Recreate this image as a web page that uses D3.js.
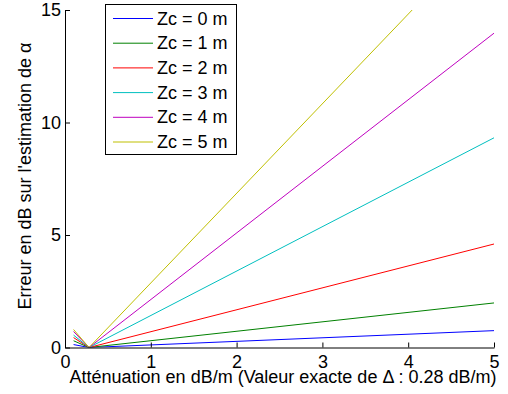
<!DOCTYPE html>
<html><head><meta charset="utf-8">
<script src="https://cdn.jsdelivr.net/npm/d3@7"></script>
<style>body{margin:0;background:#fff}svg{display:block}text{font-family:"Liberation Sans",Arial,sans-serif;}</style>
</head><body><svg id="c" width="508" height="394"></svg>
<script>
const xValues = [0.1, 0.28, 5];
const seriesNames = ["Zc = 0 m","Zc = 1 m","Zc = 2 m","Zc = 3 m","Zc = 4 m","Zc = 5 m"];
const zc0 = [0.13, 0, 0.75];
const zc1 = [0.30, 0, 1.98];
const zc2 = [0.44, 0, 4.6];
const zc3 = [0.55, 0, 9.32];
const zc4 = [0.71, 0, 13.97];
const zc5 = [0.80, 0, 18.8];
const seriesValues = [zc0, zc1, zc2, zc3, zc4, zc5];
const colors = ["#0000ff","#008000","#ff0000","#00bfbf","#bf00bf","#bfbf00"];
const xTicks = [0,1,2,3,4,5];
const yTicks = [0,5,10,15];

const svg = d3.select("#c");
const L = 65, R = 494, T = 10, B = 347.5;
const FS = 18;
const x = d3.scaleLinear().domain([0,5]).range([L,R]);
const y = d3.scaleLinear().domain([0,15]).range([B,T]);

svg.append("clipPath").attr("id","clip").append("rect")
  .attr("x",L).attr("y",T).attr("width",R-L).attr("height",B-T);

const line = d3.line().x((d,i)=>x(xValues[i])).y(d=>y(d));
const g = svg.append("g").attr("clip-path","url(#clip)");
seriesValues.forEach((s,k)=>{
  g.append("path").datum(s).attr("d",line).attr("fill","none")
   .attr("stroke",colors[k]).attr("stroke-width",1);
});

const xa = svg.append("g").attr("transform",`translate(0,${B})`)
  .call(d3.axisBottom(x).tickValues(xTicks).tickFormat(d3.format("d")).tickSizeInner(-5).tickSizeOuter(0).tickPadding(8));
const ya = svg.append("g").attr("transform",`translate(${L},0)`)
  .call(d3.axisLeft(y).tickValues(yTicks).tickFormat(d3.format("d")).tickSizeInner(-5).tickSizeOuter(0).tickPadding(4));
[xa,ya].forEach(a=>{
  a.selectAll("path,line").attr("stroke","#000");
  a.selectAll("text").attr("font-size",FS).attr("fill","#000").attr("font-family","Liberation Sans, Arial, sans-serif");
});

svg.append("text").attr("x",283).attr("y",383).attr("text-anchor","middle")
  .attr("font-size",FS).text("Atténuation en dB/m (Valeur exacte de Δ : 0.28 dB/m)");
svg.append("text").attr("transform",`translate(30.5,176) rotate(-90)`).attr("text-anchor","middle")
  .attr("font-size",FS).text("Erreur en dB sur l'estimation de α");

const lg = svg.append("g");
lg.append("rect").attr("x",105.5).attr("y",4.5).attr("width",131).attr("height",150)
  .attr("fill","#fff").attr("stroke","#000");
seriesNames.forEach((n,k)=>{
  const yy = 18.5 + k*24.7;
  lg.append("line").attr("x1",113).attr("x2",153).attr("y1",yy).attr("y2",yy).attr("stroke",colors[k]);
  lg.append("text").attr("x",157).attr("y",yy+6).attr("font-size",FS).text(n);
});
</script></body></html>
